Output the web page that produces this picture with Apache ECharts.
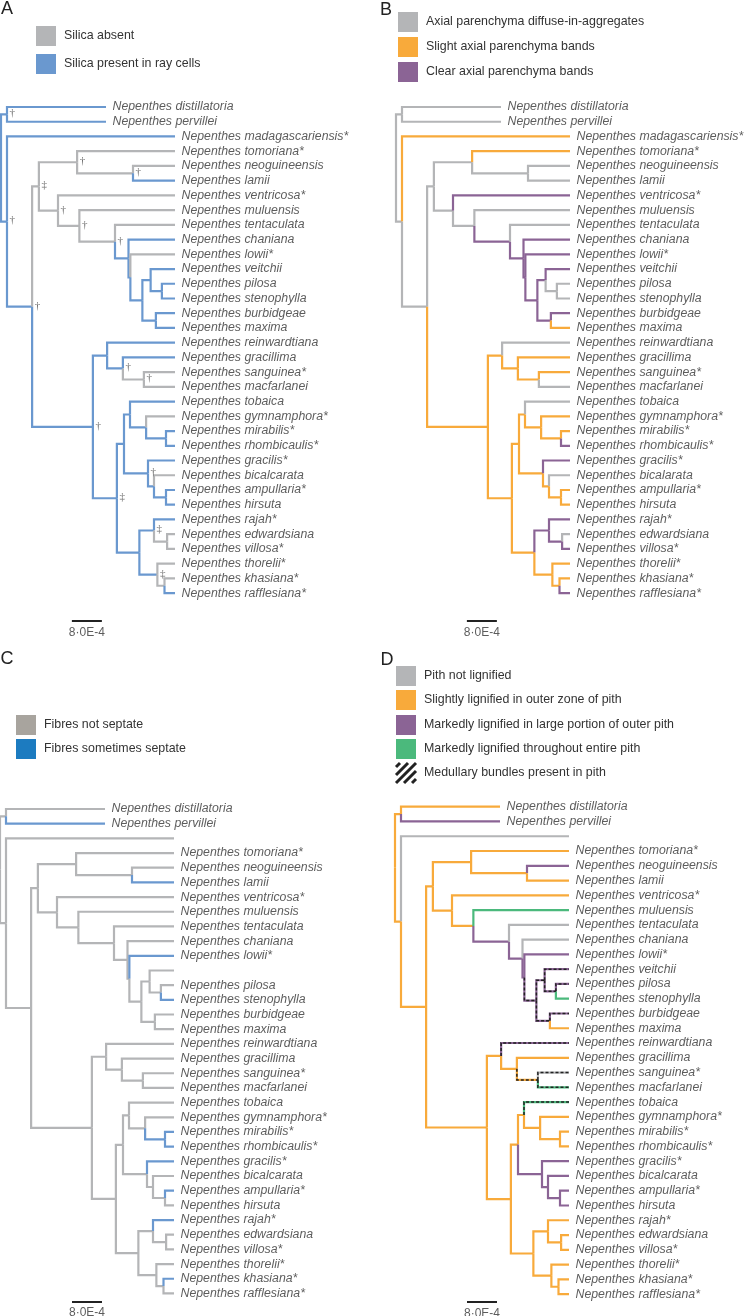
<!DOCTYPE html>
<html>
<head>
<meta charset="utf-8">
<script src="https://cdn.jsdelivr.net/npm/echarts@6/dist/echarts.min.js"></script>
<style>
html,body{margin:0;padding:0;background:#fff;}
#chart{width:745px;height:1316px;}
</style>
</head>
<body>
<div id="chart"></div>
<script>
// ================= DATA =================
// Tips, top to bottom
const leafIds = ['distillatoria','pervillei','madagascariensis','tomoriana','neoguineensis','lamii','ventricosa','muluensis','tentaculata','chaniana','lowii','veitchii','pilosa','stenophylla','burbidgeae','maxima','reinwardtiana','gracillima','sanguinea','macfarlanei','tobaica','gymnamphora','mirabilis','rhombicaulis','gracilis','bicalcarata','ampullaria','hirsuta','rajah','edwardsiana','villosa','thorelii','khasiana','rafflesiana'];
const starredTaxa = ['madagascariensis','tomoriana','ventricosa','lowii','sanguinea','gymnamphora','mirabilis','rhombicaulis','gracilis','ampullaria','rajah','villosa','thorelii','khasiana','rafflesiana'];
// distance from root, in units of 1E-4 substitutions/site
const leafDepth = [28.0,28.0,46.4,46.4,46.4,46.4,46.4,46.4,46.4,46.4,46.4,46.4,46.4,46.4,46.4,46.4,46.4,46.4,46.4,46.4,46.4,46.4,46.4,46.4,46.4,46.4,46.4,46.4,46.4,46.4,46.4,46.4,46.4,46.4];
// Internal nodes
const innerIds = ['root','dp','rest','asia','c1','tln','nl','vent','mul','ten','cl','lx','vm','vps','ps','bm','c2','rg','gsm','sm','big','tg','tobg','gmr','mr','gba','bah','ah','rt','rev','ev','tkr','kr'];
const innerDepth = [0,1.6,1.6,8.3,10.1,20.3,35.2,15.2,20.9,30.4,34.0,34.5,37.7,39.9,42.9,41.3,24.5,28.3,32.5,38.1,30.9,32.8,34.4,38.7,44.0,39.2,40.8,44.0,36.9,40.8,44.3,41.7,43.6];
const innerChildren = ['dp rest','distillatoria pervillei','madagascariensis asia','c1 c2','tln vent','tomoriana nl','neoguineensis lamii','ventricosa mul','muluensis ten','tentaculata cl','chaniana lx','lowii vm','vps bm','veitchii ps','pilosa stenophylla','burbidgeae maxima','rg big','reinwardtiana gsm','gracillima sm','sanguinea macfarlanei','tg rt','tobg gba','tobaica gmr','gymnamphora mr','mirabilis rhombicaulis','gracilis bah','bicalcarata ah','ampullaria hirsuta','rev tkr','rajah ev','edwardsiana villosa','thorelii kr','khasiana rafflesiana'];

// Panel A: silica present in ray cells (others: absent)
const silicaPresent = ['dp','distillatoria','pervillei','rest','madagascariensis','asia','lamii','cl','chaniana','lx','vm','vps','veitchii','ps','pilosa','stenophylla','bm','burbidgeae','maxima','c2','rg','reinwardtiana','gsm','gracillima','big','tg','tobg','tobaica','gmr','mr','mirabilis','rhombicaulis','gba','gracilis','bah','ah','ampullaria','hirsuta','rt','rev','rajah','tkr','rafflesiana'];
const daggerNodes = ['dp','rest','asia','c1','tln','nl','vent','mul','ten','c2','gsm','sm','big','gba','rev','tkr'];
const daggerSymbols = ['†','†','†','‡','†','†','†','†','†','†','†','†','‡','†','‡','‡'];

// Panel B: axial parenchyma (others: diffuse-in-aggregates)
const parenchymaSlight = ['madagascariensis','tomoriana','maxima','c2','rg','gsm','gracillima','sm','sanguinea','big','tg','tobg','gmr','gymnamphora','mr','mirabilis','gba','bah','ah','ampullaria','hirsuta','rt','tkr','thorelii','kr','khasiana'];
const parenchymaClear = ['ventricosa','ten','cl','chaniana','lx','lowii','vm','vps','veitchii','bm','burbidgeae','rhombicaulis','gracilis','rev','rajah','ev','villosa','rafflesiana'];

// Panel C: fibres sometimes septate (others: not septate)
const fibresSeptate = ['pervillei','lamii','lowii','stenophylla','mr','mirabilis','rhombicaulis','gracilis','ampullaria','rajah','khasiana'];

// Panel D: pith lignification (others: not lignified) + medullary bundles
const pithSlight = ['dp','distillatoria','rest','asia','c1','tln','tomoriana','nl','lamii','vent','ventricosa','mul','maxima','c2','rg','gsm','gracillima','sm','big','tg','tobg','gmr','gymnamphora','mr','mirabilis','rhombicaulis','rt','rev','rajah','ev','edwardsiana','villosa','tkr','thorelii','kr','khasiana','rafflesiana'];
const pithMarkedOuter = ['pervillei','neoguineensis','ten','cl','lx','lowii','vm','vps','veitchii','ps','pilosa','bm','burbidgeae','reinwardtiana','gba','gracilis','bah','bicalcarata','ah','ampullaria','hirsuta'];
const pithMarkedEntire = ['muluensis','stenophylla','macfarlanei','tobaica'];
const medullaryBundles = ['vm','vps','veitchii','ps','pilosa','bm','burbidgeae','reinwardtiana','sm','sanguinea','macfarlanei','tobaica'];

const scaleBarLength = 8;          // 8·0E-4 substitutions/site
const scaleBarLabel = '8·0E-4';

// ================= BUILD =================
const COL = {gray:'#b4b5b7', blue:'#6a98cf', orange:'#f8aa3b', purple:'#8b6495', green:'#4bb97c'};
const FONT = '"Liberation Sans", Arial, sans-serif';
const PX_PER_UNIT = 3.75, XMAX = 60;

const depth = {};
leafIds.forEach((id,i)=>depth[id]=leafDepth[i]);
innerIds.forEach((id,i)=>depth[id]=innerDepth[i]);
const children = {};
innerIds.forEach((id,i)=>children[id]=innerChildren[i].split(' '));
const yPos = {};
leafIds.forEach((id,i)=>yPos[id]=i);
function computeY(id){
  if (yPos[id]!==undefined) return yPos[id];
  const c = children[id];
  const v = (computeY(c[0]) + computeY(c[c.length-1]))/2;
  yPos[id]=v; return v;
}
computeY('root');
const edges = [];
(function walk(id){ (children[id]||[]).forEach(c=>{edges.push([id,c]); walk(c);}); })('root');

function stateColor(lists, def){
  return id => { for (const [list,col] of lists) if (list.includes(id)) return col; return def; };
}

const panels = [
  {left:1, y0:107, step:14.73, ymax:36, bar:[18.9,34.9], color:stateColor([[silicaPresent,COL.blue]],COL.gray), hidden:[], rename:{}, daggers:true},
  {left:396, y0:107, step:14.73, ymax:36, bar:[18.9,34.9], color:stateColor([[parenchymaSlight,COL.orange],[parenchymaClear,COL.purple]],COL.gray), hidden:[], rename:{bicalcarata:'bicalarata'}},
  {left:0, y0:809, step:14.68, ymax:34, bar:[19.2,33.56], color:stateColor([[fibresSeptate,COL.blue]],COL.gray), hidden:['madagascariensis','veitchii'], rename:{}},
  {left:395, y0:806.7, step:14.77, ymax:34, bar:[19.2,33.53], color:stateColor([[pithSlight,COL.orange],[pithMarkedOuter,COL.purple],[pithMarkedEntire,COL.green]],COL.gray), hidden:['madagascariensis'], rename:{}, hatch:medullaryBundles}
];

const grids=[], xAxes=[], yAxes=[], series=[];
panels.forEach((p,i)=>{
  grids.push({left:p.left, top:p.y0-p.step, width:XMAX*PX_PER_UNIT, height:(p.ymax+1)*p.step, containLabel:false, outerBoundsMode:'none'});
  xAxes.push({type:'value', gridIndex:i, min:0, max:XMAX, show:false});
  yAxes.push({type:'value', gridIndex:i, min:-1, max:p.ymax, inverse:true, show:false});
  const edgeCoords = e => [[depth[e[0]],yPos[e[0]]],[depth[e[0]],yPos[e[1]]],[depth[e[1]],yPos[e[1]]]];
  series.push({
    type:'lines', coordinateSystem:'cartesian2d', xAxisIndex:i, yAxisIndex:i, polyline:true, silent:true, animation:false, z:2,
    lineStyle:{width:2.2, opacity:1, cap:'butt', join:'miter'},
    data: edges.map(e=>({coords:edgeCoords(e), lineStyle:{color:p.color(e[1]), width:2.2, opacity:1}}))
  });
  if (p.hatch){
    series.push({
      type:'lines', coordinateSystem:'cartesian2d', xAxisIndex:i, yAxisIndex:i, polyline:true, silent:true, animation:false, z:3,
      lineStyle:{width:1.5, opacity:1, color:'#222', type:[3,2], cap:'butt', join:'miter'},
      data: edges.filter(e=>p.hatch.includes(e[1])).map(e=>({coords:edgeCoords(e)}))
    });
  }
  series.push({
    type:'scatter', xAxisIndex:i, yAxisIndex:i, silent:true, animation:false, symbolSize:1, z:4,
    itemStyle:{color:'rgba(0,0,0,0)'},
    data: leafIds.filter(id=>!p.hidden.includes(id)).map(id=>({
      value:[depth[id], yPos[id]],
      name:'Nepenthes ' + (p.rename[id]||id) + (starredTaxa.includes(id)?'*':'')
    })),
    label:{show:true, position:'right', distance:6, formatter:'{b}', fontFamily:FONT, fontStyle:'italic', fontSize:12.3, color:'#333'}
  });
  if (p.daggers){
    series.push({
      type:'scatter', xAxisIndex:i, yAxisIndex:i, silent:true, animation:false, symbolSize:1, z:4,
      itemStyle:{color:'rgba(0,0,0,0)'},
      data: daggerNodes.map((id,k)=>({value:[depth[id], yPos[id]], name:daggerSymbols[k]})),
      label:{show:true, position:'right', distance:2, offset:[0,-1], formatter:'{b}', fontFamily:'"Liberation Serif", serif', fontSize:11, color:'#444'}
    });
  }
  series.push({
    type:'lines', coordinateSystem:'cartesian2d', xAxisIndex:i, yAxisIndex:i, polyline:false, silent:true, animation:false, z:2,
    lineStyle:{width:2, opacity:1, color:'#222', cap:'butt'},
    data:[{coords:[[p.bar[0],p.bar[1]],[p.bar[0]+scaleBarLength,p.bar[1]]]}]
  });
  series.push({
    type:'scatter', xAxisIndex:i, yAxisIndex:i, silent:true, animation:false, symbolSize:1, z:4,
    itemStyle:{color:'rgba(0,0,0,0)'},
    data:[{value:[p.bar[0]+scaleBarLength/2, p.bar[1]], name:scaleBarLabel}],
    label:{show:true, position:'bottom', distance:5, formatter:'{b}', fontFamily:FONT, fontSize:12, color:'#333'}
  });
});

// ---- legends & panel letters ----
const graphic = [];
function letter(t,x,y){ graphic.push({type:'text', x, y, style:{text:t, font:'18px '+FONT, fill:'#222', textAlign:'center', textVerticalAlign:'middle', verticalAlign:'middle'}}); }
function legendItem(x,y,fill,text){
  if (fill==='hatch'){
    [4,12,20,28,36].forEach(c=>{
      const x1=Math.max(0,c-20), x2=Math.min(20,c);
      graphic.push({type:'line', shape:{x1:x+x1, y1:y+(c-x1), x2:x+x2, y2:y+(c-x2)}, style:{stroke:'#222', lineWidth:3}});
    });
  } else {
    graphic.push({type:'rect', shape:{x, y, width:20, height:20}, style:{fill}});
  }
  graphic.push({type:'text', x:x+28, y:y+10, style:{text, font:'12.4px '+FONT, fill:'#333', textVerticalAlign:'middle', verticalAlign:'middle'}});
}
letter('A',7,9); letter('B',386,10); letter('C',7,659); letter('D',387,660);
legendItem(36,26,COL.gray,'Silica absent');
legendItem(36,54,COL.blue,'Silica present in ray cells');
legendItem(398,12,COL.gray,'Axial parenchyma diffuse-in-aggregates');
legendItem(398,37,COL.orange,'Slight axial parenchyma bands');
legendItem(398,62,COL.purple,'Clear axial parenchyma bands');
legendItem(16,715,'#a8a49e','Fibres not septate');
legendItem(16,739,'#1c7bc0','Fibres sometimes septate');
legendItem(396,666,COL.gray,'Pith not lignified');
legendItem(396,690,COL.orange,'Slightly lignified in outer zone of pith');
legendItem(396,715,COL.purple,'Markedly lignified in large portion of outer pith');
legendItem(396,739,COL.green,'Markedly lignified throughout entire pith');
legendItem(396,763,'hatch','Medullary bundles present in pith');

const chart = echarts.init(document.getElementById('chart'), null, {renderer:'canvas'});
chart.setOption({
  animation:false,
  backgroundColor:'#fff',
  grid:grids, xAxis:xAxes, yAxis:yAxes, series, graphic
});
</script>
</body>
</html>
